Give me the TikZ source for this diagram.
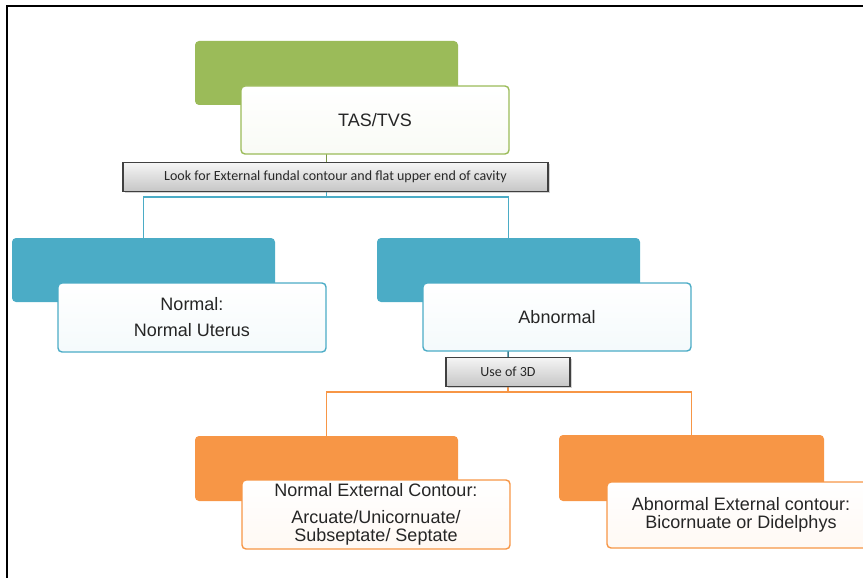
\documentclass[tikz,border=0pt]{standalone}
\usepackage{fontspec}
\setmainfont{Liberation Sans}
\newfontfamily\barfont{Carlito}
\usetikzlibrary{backgrounds,shadows}

\definecolor{accgreen}{RGB}{155,187,89}
\definecolor{accblue}{RGB}{75,172,198}
\definecolor{accorange}{RGB}{247,150,70}
\definecolor{bartext}{RGB}{40,40,40}

\begin{document}
\begin{tikzpicture}[x=1pt,y=-1pt,
    backbox/.style={rounded corners=4pt, inner sep=0pt, minimum width=263pt, minimum height=64pt},
    textbox/.style={rounded corners=4pt, line width=1.4pt, inner sep=0pt, align=center,
        minimum width=268pt, minimum height=68pt, text=black!85,
        font=\fontsize{18}{22}\selectfont},
    graybar/.style={draw=black!75, line width=1.2pt, top color=gray!8, bottom color=gray!45,
        inner sep=0pt, minimum height=29pt, text=bartext, font=\barfont\fontsize{14}{16}\selectfont,
        drop shadow={shadow xshift=1.5pt, shadow yshift=-1.5pt, opacity=0.35}},
    link/.style={line width=1.5pt}]
  \useasboundingbox (0,0) rectangle (863,578);
  \draw[line width=2pt] (7,578) -- (7,6) -- (863,6);

  % top level
  \draw (326.5,73) node[backbox, fill=accgreen] (tasback) {};
  \draw (375,120) node[textbox, draw=accgreen, top color=white, bottom color=accgreen!6] (tas) {TAS/TVS};
  \draw (335.5,177) node[graybar, minimum width=425pt] (look) {Look for External fundal contour and flat upper end of cavity};

  % second level
  \draw (143.5,270) node[backbox, fill=accblue] (normback) {};
  \draw (192,317.5) node[textbox, draw=accblue, minimum height=69pt, top color=white, bottom color=accblue!6] (normal) {Normal:\\[4pt]Normal Uterus};
  \draw (508.5,270) node[backbox, fill=accblue] (abnback) {};
  \draw (557,317) node[textbox, draw=accblue, top color=white, bottom color=accblue!6] (abnormal) {Abnormal};
  \draw (508,372) node[graybar, minimum width=124pt] (use3d) {Use of 3D};

  % third level
  \draw (326.5,468.5) node[backbox, fill=accorange, minimum height=65pt] (necback) {};
  \draw (376,514.5) node[textbox, draw=accorange, minimum height=69pt, top color=white, bottom color=accorange!6,
        font=\fontsize{18}{18}\selectfont] (nec) {Normal External Contour:\\[9pt]Arcuate/Unicornuate/\\Subseptate/ Septate};
  \draw (691.5,468) node[backbox, fill=accorange, minimum width=265pt, minimum height=66pt] (aecback) {};
  \draw (741,515) node[textbox, draw=accorange, minimum height=66pt, top color=white, bottom color=accorange!6,
        font=\fontsize{18}{18}\selectfont] (aec) {Abnormal External contour:\\Bicornuate or Didelphys};

  \coordinate (bus1) at (326.5,197);
  \coordinate (bus2) at (508,392);

  \begin{pgfonlayer}{background}
    \draw[link, accgreen!80!black] (tasback.south) -- (tasback.south |- look.north);
    \draw[link, accblue] (tasback.south |- look.south) -- (bus1) -| (normback.north);
    \draw[link, accblue] (bus1) -| (abnback.north);
    \draw[link, accblue!70!black] (abnback.south) -- (use3d.north);
    \draw[link, accorange] (use3d.south) -- (bus2) -| (necback.north);
    \draw[link, accorange] (bus2) -| (aecback.north);
  \end{pgfonlayer}
\end{tikzpicture}
\end{document}
